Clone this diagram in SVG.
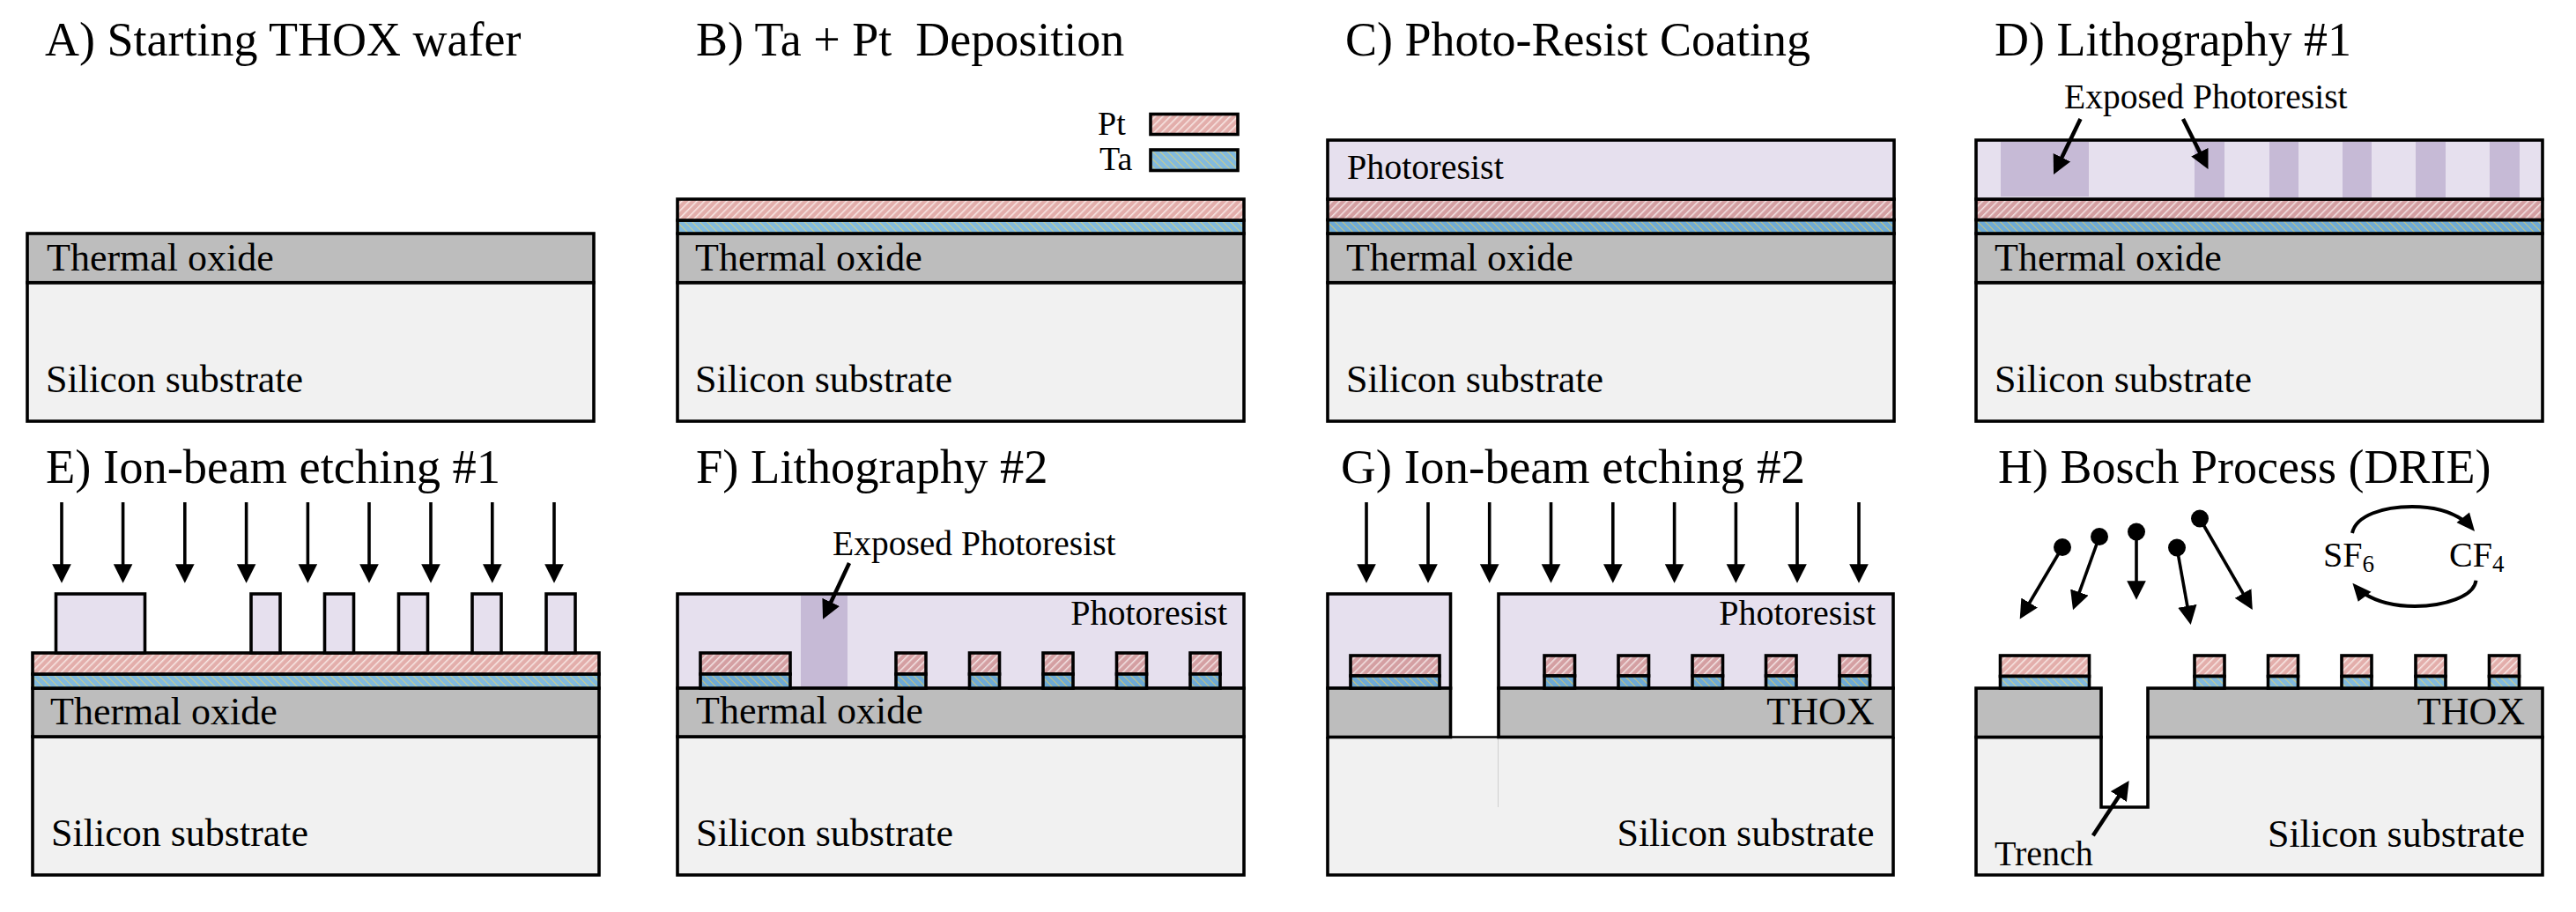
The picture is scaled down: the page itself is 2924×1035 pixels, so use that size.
<svg xmlns="http://www.w3.org/2000/svg" width="2924" height="1035" viewBox="0 0 2924 1035">
<style>
text{font-family:"Liberation Serif","Times New Roman",serif;fill:#000;white-space:pre}
.title{font-size:54px}
.lab{font-size:44px}
.pr{font-size:40px}
.exp{font-size:39.5px}
.leg{font-size:38px}
.r{text-anchor:end}
.sub{font-size:27px}
.l{stroke:#000;stroke-width:3.6;stroke-linejoin:miter}
.si{fill:#f1f1f1}
.ox{fill:#bdbdbd}
.res{fill:#e6e0ee}
.ptl{fill:url(#ptL)}
.ptd{fill:url(#ptD)}
.tal{fill:url(#taL)}
.tad{fill:url(#taD)}
.ex{fill:#c6bad6}
.arr{fill:none;stroke:#000;stroke-width:3.6;marker-end:url(#head)}
.thick{stroke-width:4.5}
.curve{fill:none;stroke:#000;stroke-width:4}
.hd{fill:#000}
</style>
<defs>
<marker id="head" markerUnits="userSpaceOnUse" markerWidth="24" markerHeight="24" refX="11.5" refY="11" orient="auto"><path d="M0,0.2 L21.5,11 L0,21.8 Z" fill="#000"/></marker>
<pattern id="ptL" width="6" height="6" patternUnits="userSpaceOnUse" patternTransform="rotate(-45)"><rect width="6" height="6" fill="#e3aeab"/><rect width="6" height="1.5" fill="#f8e8e5"/></pattern>
<pattern id="ptD" width="6" height="6" patternUnits="userSpaceOnUse" patternTransform="rotate(-45)"><rect width="6" height="6" fill="#d49fa2"/><rect width="6" height="1.5" fill="#f3e4e4"/></pattern>
<pattern id="taL" width="6" height="6" patternUnits="userSpaceOnUse" patternTransform="rotate(45)"><rect width="6" height="6" fill="#82bade"/><rect width="6" height="0.7" fill="#f0d860"/></pattern>
<pattern id="taD" width="6" height="6" patternUnits="userSpaceOnUse" patternTransform="rotate(45)"><rect width="6" height="6" fill="#6eaad6"/><rect width="6" height="0.7" fill="#f0d050"/></pattern>
</defs>
<rect width="2924" height="1035" fill="#fff"/>

<g id="panel-a">
<text class="title" x="51" y="63">A) Starting THOX wafer</text>
<rect class="si l" x="31" y="320.7" width="643" height="157.3"/>
<rect class="ox l" x="31" y="265" width="643" height="55.7"/>
<text class="lab" x="53" y="307">Thermal oxide</text>
<text class="lab" x="52" y="445">Silicon substrate</text>
</g>

<g id="panel-b">
<text class="title" x="790" y="63">B) Ta + Pt  Deposition</text>
<rect class="si l" x="769" y="320.7" width="643" height="157.3"/>
<rect class="ox l" x="769" y="265" width="643" height="55.7"/>
<rect class="tal l" x="769" y="250" width="643" height="15"/>
<rect class="ptl l" x="769" y="226" width="643" height="24"/>
<text class="lab" x="789" y="307">Thermal oxide</text>
<text class="lab" x="789" y="445">Silicon substrate</text>
<rect class="ptl l" x="1306" y="129.5" width="99" height="23"/>
<rect class="tal l" x="1306" y="170" width="99" height="23.5"/>
<text class="leg" x="1246" y="153">Pt</text>
<text class="leg" x="1248" y="193">Ta</text>
</g>

<g id="panel-c">
<text class="title" x="1527" y="63">C) Photo-Resist Coating</text>
<rect class="si l" x="1507" y="320.7" width="643" height="157.3"/>
<rect class="ox l" x="1507" y="265" width="643" height="55.7"/>
<rect class="tad l" x="1507" y="249.5" width="643" height="15.5"/>
<rect class="ptd l" x="1507" y="226" width="643" height="23.5"/>
<rect class="res l" x="1507" y="159" width="643" height="67"/>
<text class="pr" x="1529" y="203">Photoresist</text>
<text class="lab" x="1528" y="307">Thermal oxide</text>
<text class="lab" x="1528" y="445">Silicon substrate</text>
</g>

<g id="panel-d">
<text class="title" x="2264" y="63">D) Lithography #1</text>
<rect class="si l" x="2243" y="320.7" width="643" height="157.3"/>
<rect class="ox l" x="2243" y="265" width="643" height="55.7"/>
<rect class="tad l" x="2243" y="249.5" width="643" height="15.5"/>
<rect class="ptd l" x="2243" y="226" width="643" height="23.5"/>
<rect class="res l" x="2243" y="159" width="643" height="67"/>
<rect class="ex" x="2271" y="161" width="100" height="62"/>
<rect class="ex" x="2491" y="161" width="34" height="63"/>
<rect class="ex" x="2576" y="161" width="33" height="63"/>
<rect class="ex" x="2659" y="161" width="33" height="63"/>
<rect class="ex" x="2742" y="161" width="34" height="63"/>
<rect class="ex" x="2826" y="161" width="34" height="63"/>
<text class="exp" x="2343" y="123">Exposed Photoresist</text>
<text class="lab" x="2264" y="307">Thermal oxide</text>
<text class="lab" x="2264" y="445">Silicon substrate</text>
</g>

<g id="panel-e">
<text class="title" x="52" y="548" style="font-size:54.5px">E) Ion-beam etching #1</text>
<rect class="si l" x="37" y="836" width="643" height="157"/>
<rect class="ox l" x="37" y="781" width="643" height="55"/>
<rect class="tal l" x="37" y="765" width="643" height="16"/>
<rect class="ptl l" x="37" y="741" width="643" height="24"/>
<g class="res l">
<rect x="63.5" y="674" width="101" height="67"/>
<rect x="285" y="674" width="33" height="67"/>
<rect x="368.5" y="674" width="33" height="67"/>
<rect x="452.5" y="674" width="33" height="67"/>
<rect x="536" y="674" width="33" height="67"/>
<rect x="620" y="674" width="33" height="67"/>
</g>
<text class="lab" x="57" y="822">Thermal oxide</text>
<text class="lab" x="58" y="960">Silicon substrate</text>
</g>

<g id="panel-f">
<text class="title" x="790" y="548" style="font-size:54.5px">F) Lithography #2</text>
<rect class="si l" x="769" y="836" width="643" height="157"/>
<rect class="res l" x="769" y="674" width="643" height="107"/>
<rect class="ex" x="909" y="676" width="53" height="103"/>
<rect class="ox l" x="769" y="781" width="643" height="55"/>
<g class="ptd l">
<rect x="795" y="741" width="102" height="24"/>
<rect x="1017" y="741" width="34" height="24"/>
<rect x="1100.5" y="741" width="34" height="24"/>
<rect x="1184" y="741" width="34" height="24"/>
<rect x="1267.5" y="741" width="34" height="24"/>
<rect x="1351" y="741" width="34" height="24"/>
</g>
<g class="tad l">
<rect x="795" y="765" width="102" height="16"/>
<rect x="1017" y="765" width="34" height="16"/>
<rect x="1100.5" y="765" width="34" height="16"/>
<rect x="1184" y="765" width="34" height="16"/>
<rect x="1267.5" y="765" width="34" height="16"/>
<rect x="1351" y="765" width="34" height="16"/>
</g>
<text class="exp" x="945" y="630">Exposed Photoresist</text>
<text class="pr r" x="1393" y="709">Photoresist</text>
<text class="lab" x="790" y="821">Thermal oxide</text>
<text class="lab" x="790" y="960">Silicon substrate</text>
</g>

<g id="panel-g">
<text class="title" x="1522" y="548" style="font-size:55px">G) Ion-beam etching #2</text>
<rect class="si" x="1507" y="836.5" width="642" height="157"/>
<path d="M1507,836.5 V993 H2149 V836.5" fill="none" class="l"/>
<path d="M1646,836.5 H1701" fill="none" stroke="#000" stroke-width="2.5"/>
<path d="M1700.5,838 V916" fill="none" stroke="#cfcfcf" stroke-width="1"/>
<rect class="res l" x="1507" y="674" width="139.5" height="107"/>
<rect class="res l" x="1701" y="674" width="448" height="107"/>
<rect class="ox l" x="1507" y="781" width="139.5" height="55.5"/>
<rect class="ox l" x="1701" y="781" width="448" height="55.5"/>
<g class="ptd l">
<rect x="1533" y="744" width="101" height="23"/>
<rect x="1753" y="744" width="34.5" height="23"/>
<rect x="1837" y="744" width="34.5" height="23"/>
<rect x="1921" y="744" width="34.5" height="23"/>
<rect x="2004.5" y="744" width="34.5" height="23"/>
<rect x="2088" y="744" width="34.5" height="23"/>
</g>
<g class="tad l">
<rect x="1533" y="767" width="101" height="14"/>
<rect x="1753" y="767" width="34.5" height="14"/>
<rect x="1837" y="767" width="34.5" height="14"/>
<rect x="1921" y="767" width="34.5" height="14"/>
<rect x="2004.5" y="767" width="34.5" height="14"/>
<rect x="2088" y="767" width="34.5" height="14"/>
</g>
<text class="pr r" x="2129" y="709">Photoresist</text>
<text class="lab r" x="2127.5" y="822">THOX</text>
<text class="lab r" x="2127.5" y="960">Silicon substrate</text>
</g>

<g id="panel-h">
<text class="title" x="2268" y="548">H) Bosch Process (DRIE)</text>
<path class="si l" d="M2243,836.5 H2385 V916 H2438 V836.5 H2886 V993 H2243 Z"/>
<rect class="ox l" x="2243" y="781" width="142" height="55.5"/>
<rect class="ox l" x="2438" y="781" width="448" height="55.5"/>
<g class="ptl l">
<rect x="2270.5" y="744" width="101" height="23.5"/>
<rect x="2491" y="744" width="34" height="23.5"/>
<rect x="2574.5" y="744" width="34" height="23.5"/>
<rect x="2658" y="744" width="34" height="23.5"/>
<rect x="2742" y="744" width="34" height="23.5"/>
<rect x="2825.5" y="744" width="34" height="23.5"/>
</g>
<g class="tal l">
<rect x="2270.5" y="767.5" width="101" height="13.5"/>
<rect x="2491" y="767.5" width="34" height="13.5"/>
<rect x="2574.5" y="767.5" width="34" height="13.5"/>
<rect x="2658" y="767.5" width="34" height="13.5"/>
<rect x="2742" y="767.5" width="34" height="13.5"/>
<rect x="2825.5" y="767.5" width="34" height="13.5"/>
</g>
<circle cx="2341" cy="621" r="10"/>
<circle cx="2383" cy="609" r="10"/>
<circle cx="2425" cy="603.5" r="10"/>
<circle cx="2471" cy="621.5" r="10"/>
<circle cx="2497" cy="588.5" r="10"/>
<text class="pr" x="2637" y="643">SF<tspan class="sub" dy="6">6</tspan></text>
<text class="pr" x="2780" y="643">CF<tspan class="sub" dy="6">4</tspan></text>
<text class="lab r" x="2866" y="822">THOX</text>
<text class="lab r" x="2866" y="961">Silicon substrate</text>
<text class="pr" x="2264" y="982">Trench</text>
</g>

<g id="connectors">
<path class="arr thick" d="M2361.5,135 L2335.4,189"/>
<path class="arr thick" d="M2478,135 L2502,183"/>
<path class="arr thick" d="M964,639 L938.3,693.7"/>
<path class="arr" d="M70,570 V651.7"/>
<path class="arr" d="M139.6,570 V651.7"/>
<path class="arr" d="M209.8,570 V651.7"/>
<path class="arr" d="M279.6,570 V651.7"/>
<path class="arr" d="M349.4,570 V651.7"/>
<path class="arr" d="M419,570 V651.7"/>
<path class="arr" d="M489,570 V651.7"/>
<path class="arr" d="M558.8,570 V651.7"/>
<path class="arr" d="M629,570 V651.7"/>
<path class="arr" d="M1551,570 V651.7"/>
<path class="arr" d="M1621,570 V651.7"/>
<path class="arr" d="M1690.7,570 V651.7"/>
<path class="arr" d="M1760.5,570 V651.7"/>
<path class="arr" d="M1830.8,570 V651.7"/>
<path class="arr" d="M1900.6,570 V651.7"/>
<path class="arr" d="M1970.4,570 V651.7"/>
<path class="arr" d="M2040,570 V651.7"/>
<path class="arr" d="M2110,570 V651.7"/>
<path class="arr" d="M2341,621 L2297.8,694"/>
<path class="arr" d="M2383,609 L2356.4,682.9"/>
<path class="arr" d="M2425,603.5 L2425,670.7"/>
<path class="arr" d="M2471,621.5 L2484.9,699.1"/>
<path class="arr" d="M2497,588.5 L2551.8,683.4"/>
<path class="arr thick" d="M2375.8,948.3 L2411.2,894.4"/>
<path class="curve" d="M2670,605 C2674,585 2705,575 2738,575 C2765,575 2785,582 2798,592"/>
<polygon class="hd" points="2809,603 2803,581.5 2788.5,593"/>
<path class="curve" d="M2810.5,658.7 C2808,677 2775,688 2741,688 C2715,688 2697,682 2684,674"/>
<polygon class="hd" points="2670.4,661.7 2676.7,682.7 2691.5,671.7"/>
</g>
</svg>
